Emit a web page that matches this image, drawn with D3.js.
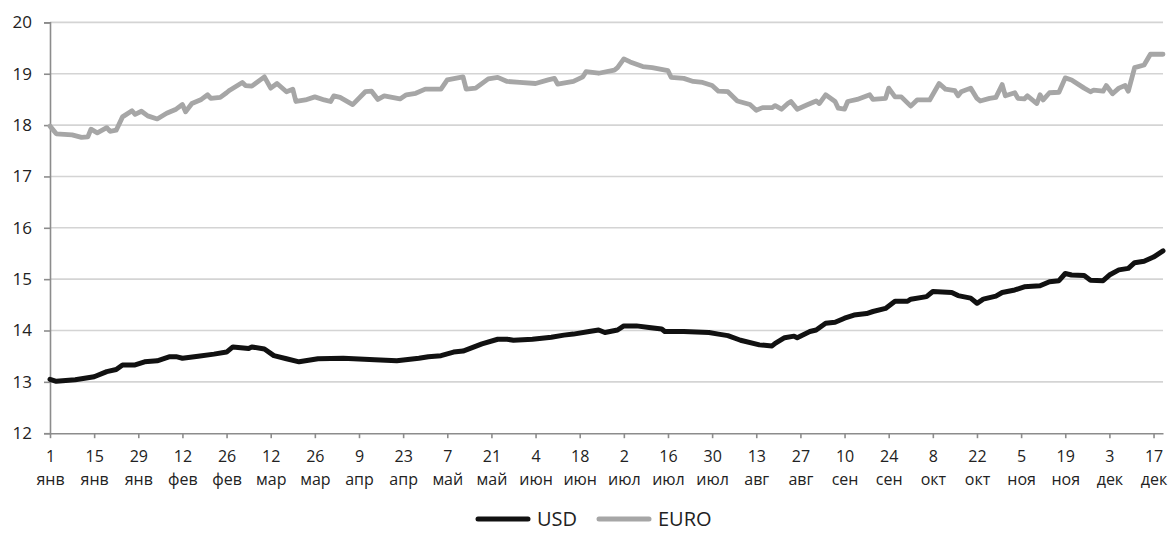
<!DOCTYPE html>
<html>
<head>
<meta charset="utf-8">
<script src="https://cdn.jsdelivr.net/npm/d3@7"></script>
<style>
	html, body { margin: 0; padding: 0; background: #fff; }
	svg { display: block; font-family: 'Open Sans', 'Noto Sans', sans-serif; }
</style>
</head>
<body>
<svg id="chart" width="1175" height="547"></svg>
<script>
'use strict';

// Exchange rate chart, USD vs EURO, one year of observations.

const YEAR = 2018;
const MONTHS = ['янв', 'фев', 'мар', 'апр', 'май', 'июн', 'июл', 'авг', 'сен', 'окт', 'ноя', 'дек'];
const Y_TICKS = [12, 13, 14, 15, 16, 17, 18, 19, 20];

const usdDates = [
	'01-01', '01-03', '01-09', '01-15', '01-19', '01-22', '01-24', '01-28', '01-31',
	'02-04', '02-08', '02-10', '02-12', '02-17', '02-22', '02-26', '02-28',
	'03-05', '03-06', '03-10', '03-13', '03-17', '03-21', '03-27',
	'04-04', '04-14', '04-21', '04-28',
	'05-01', '05-05', '05-09', '05-12', '05-18', '05-23', '05-26', '05-28',
	'06-03', '06-09', '06-13', '06-16', '06-21', '06-24', '06-26', '06-30',
	'07-02', '07-06', '07-10', '07-14', '07-15', '07-21', '07-29',
	'08-01', '08-04', '08-08', '08-14', '08-18', '08-19', '08-22', '08-25', '08-26', '08-30',
	'09-01', '09-04', '09-07', '09-10', '09-13', '09-17', '09-19', '09-23', '09-26', '09-30',
	'10-01', '10-06', '10-08', '10-14', '10-16', '10-20', '10-22', '10-24', '10-28', '10-30',
	'11-03', '11-06', '11-11', '11-14', '11-17', '11-19', '11-21', '11-25', '11-27',
	'12-01', '12-03', '12-06', '12-09', '12-11', '12-14', '12-17', '12-20'
];
const usdValues = [
	13.05, 13.01, 13.04, 13.10, 13.20, 13.24, 13.33, 13.33, 13.39,
	13.41, 13.49, 13.49, 13.46, 13.50, 13.54, 13.58, 13.68,
	13.65, 13.68, 13.64, 13.51, 13.45, 13.39, 13.45,
	13.46, 13.43, 13.41, 13.46,
	13.49, 13.51, 13.58, 13.60, 13.74, 13.83, 13.83, 13.81,
	13.83, 13.87, 13.91, 13.93, 13.98, 14.01, 13.96, 14.01,
	14.09, 14.09, 14.06, 14.03, 13.98, 13.98, 13.96,
	13.93, 13.90, 13.81, 13.72, 13.70, 13.75, 13.86, 13.89, 13.86, 13.98,
	14.01, 14.14, 14.16, 14.24, 14.30, 14.33, 14.37, 14.43, 14.57, 14.57,
	14.61, 14.66, 14.76, 14.74, 14.68, 14.63, 14.53, 14.61, 14.67, 14.74,
	14.79, 14.85, 14.87, 14.95, 14.97, 15.11, 15.08, 15.07, 14.98,
	14.97, 15.08, 15.18, 15.21, 15.32, 15.35, 15.43, 15.55
];

const euroDates = [
	'01-01', '01-03', '01-08', '01-11', '01-13', '01-14', '01-16', '01-19', '01-20', '01-22',
	'01-24', '01-27', '01-28', '01-30',
	'02-01', '02-04', '02-07', '02-10', '02-12', '02-13', '02-15', '02-18', '02-20', '02-21',
	'02-24', '02-26', '02-27',
	'03-03', '03-04', '03-06', '03-10', '03-12', '03-14', '03-17', '03-19', '03-20', '03-23',
	'03-26', '03-29', '03-31',
	'04-01', '04-03', '04-07', '04-11', '04-13', '04-15', '04-17', '04-22', '04-24', '04-27', '04-30',
	'05-05', '05-07', '05-12', '05-13', '05-16', '05-20', '05-23', '05-26', '05-30',
	'06-04', '06-08', '06-10', '06-11', '06-16', '06-19', '06-20', '06-24', '06-29', '06-30',
	'07-02', '07-04', '07-08', '07-11', '07-16', '07-17', '07-21', '07-24', '07-27', '07-30',
	'08-01', '08-04', '08-07', '08-11', '08-13', '08-15', '08-18', '08-19', '08-21', '08-23',
	'08-24', '08-26', '08-29',
	'09-01', '09-02', '09-04', '09-07', '09-08', '09-10', '09-11', '09-14', '09-18', '09-19',
	'09-23', '09-24', '09-26', '09-28',
	'10-01', '10-03', '10-07', '10-10', '10-12', '10-15', '10-16', '10-17', '10-20', '10-22',
	'10-23', '10-26', '10-28', '10-30', '10-31',
	'11-03', '11-04', '11-06', '11-07', '11-10', '11-11', '11-12', '11-14', '11-17', '11-19',
	'11-21', '11-25', '11-27', '11-28',
	'12-01', '12-02', '12-04', '12-06', '12-08', '12-09', '12-11', '12-14', '12-16', '12-20'
];
const euroValues = [
	17.98, 17.83, 17.81, 17.76, 17.77, 17.92, 17.85, 17.95, 17.88, 17.90,
	18.16, 18.28, 18.21, 18.27,
	18.18, 18.12, 18.23, 18.31, 18.40, 18.26, 18.42, 18.50, 18.59, 18.52,
	18.54, 18.63, 18.68,
	18.83, 18.77, 18.76, 18.94, 18.72, 18.81, 18.65, 18.70, 18.46, 18.49,
	18.55, 18.49, 18.46,
	18.57, 18.54, 18.40, 18.65, 18.66, 18.50, 18.57, 18.51, 18.59, 18.62, 18.70,
	18.70, 18.88, 18.94, 18.70, 18.72, 18.90, 18.93, 18.85, 18.83,
	18.81, 18.88, 18.91, 18.80, 18.85, 18.94, 19.04, 19.01, 19.07, 19.12,
	19.29, 19.23, 19.14, 19.12, 19.06, 18.93, 18.91, 18.85, 18.83, 18.77,
	18.66, 18.65, 18.47, 18.40, 18.29, 18.34, 18.34, 18.38, 18.31, 18.42,
	18.46, 18.31, 18.39,
	18.47, 18.42, 18.59, 18.46, 18.33, 18.31, 18.46, 18.50, 18.59, 18.50,
	18.52, 18.72, 18.55, 18.55,
	18.37, 18.49, 18.49, 18.81, 18.70, 18.67, 18.57, 18.65, 18.72, 18.52,
	18.47, 18.52, 18.54, 18.79, 18.57,
	18.63, 18.52, 18.51, 18.57, 18.42, 18.59, 18.49, 18.63, 18.64, 18.92,
	18.88, 18.72, 18.65, 18.68,
	18.66, 18.77, 18.61, 18.72, 18.77, 18.66, 19.12, 19.17, 19.38, 19.38
];

const COLORS = {
	usd: '#111',
	euro: '#a6a6a6',
	grid: '#d4d4d4',
	axis: '#8c8c8c',
	text: '#222'
};

const M = { left: 50, right: 1163, top: 22.4, bottom: 433.2 };

const parse = (s) => d3.timeParse('%Y-%m-%d')(`${YEAR}-${s}`);

function toSeries(dates, values) {
	return dates.map((d, i) => ({ date: parse(d), value: values[i] }));
}

const usd = toSeries(usdDates, usdValues);
const euro = toSeries(euroDates, euroValues);

const svg = d3.select('#chart');

const x = d3.scaleTime()
	.domain([parse('01-01'), parse('12-20')])
	.range([M.left, M.right]);

const y = d3.scaleLinear()
	.domain([12, 20])
	.range([M.bottom, M.top]);

// gridlines
svg.append('g')
	.selectAll('line')
	.data(Y_TICKS.filter((v) => v > 12))
	.join('line')
	.attr('x1', M.left)
	.attr('x2', M.right)
	.attr('y1', (d) => y(d))
	.attr('y2', (d) => y(d))
	.attr('stroke', COLORS.grid)
	.attr('stroke-width', 1.6);

// y axis
const yAxis = svg.append('g')
	.attr('transform', `translate(${M.left},0)`)
	.call(d3.axisLeft(y).tickValues(Y_TICKS).tickSize(6).tickPadding(12).tickFormat(d3.format('d')));
yAxis.select('.domain').attr('stroke', COLORS.axis).attr('stroke-width', 1.6);
yAxis.selectAll('.tick line').attr('stroke', COLORS.axis).attr('stroke-width', 1.6);
yAxis.selectAll('.tick text')
	.attr('fill', COLORS.text)
	.style('font-size', '17px')
	.style('font-family', "'Open Sans', sans-serif");

// x axis: every 14 days, two-line labels (day number over month)
const tickDates = d3.timeDay.range(parse('01-01'), parse('12-20'), 14);
const xAxis = svg.append('g')
	.attr('transform', `translate(0,${M.bottom})`)
	.call(d3.axisBottom(x).tickValues(tickDates).tickSize(5).tickSizeOuter(0).tickFormat(() => ''));
xAxis.select('.domain').attr('stroke', COLORS.axis).attr('stroke-width', 1.6);
xAxis.selectAll('.tick line').attr('stroke', COLORS.axis).attr('stroke-width', 1.6);

const label = xAxis.selectAll('.tick text')
	.attr('fill', COLORS.text)
	.attr('y', null)
	.attr('dy', null)
	.style('font-size', '16px')
	.style('font-family', "'Open Sans', sans-serif");
label.append('tspan').attr('x', 0).attr('y', 29).text((d) => d.getDate());
label.append('tspan').attr('x', 0).attr('y', 52).text((d) => MONTHS[d.getMonth()]);

// lines
const line = d3.line()
	.x((d) => x(d.date))
	.y((d) => y(d.value));

svg.append('path')
	.datum(euro)
	.attr('fill', 'none')
	.attr('stroke', COLORS.euro)
	.attr('stroke-width', 4.8)
	.attr('stroke-linejoin', 'round')
	.attr('stroke-linecap', 'round')
	.attr('d', line);

svg.append('path')
	.datum(usd)
	.attr('fill', 'none')
	.attr('stroke', COLORS.usd)
	.attr('stroke-width', 5)
	.attr('stroke-linejoin', 'round')
	.attr('stroke-linecap', 'round')
	.attr('d', line);

// legend
const legendItems = [
	{ name: 'USD', color: COLORS.usd, x: 478 },
	{ name: 'EURO', color: COLORS.euro, x: 599 }
];
const legendY = 519;
const lg = svg.append('g').selectAll('g').data(legendItems).join('g');
lg.append('line')
	.attr('x1', (d) => d.x)
	.attr('x2', (d) => d.x + 50)
	.attr('y1', legendY)
	.attr('y2', legendY)
	.attr('stroke', (d) => d.color)
	.attr('stroke-width', 5)
	.attr('stroke-linecap', 'round');
lg.append('text')
	.attr('x', (d) => d.x + 59)
	.attr('y', legendY)
	.attr('dy', '0.36em')
	.attr('fill', COLORS.text)
	.style('font-size', '20px')
	.text((d) => d.name);
</script>
</body>
</html>
